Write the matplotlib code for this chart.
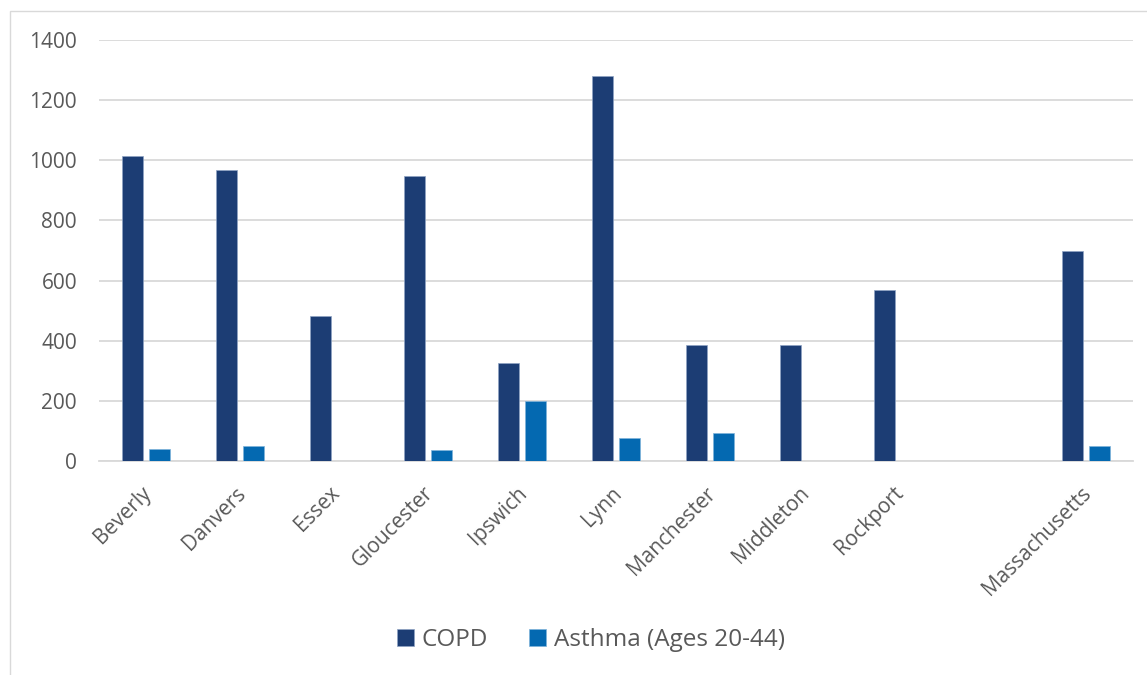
import numpy as np
import matplotlib
matplotlib.use("Agg")
import matplotlib.pyplot as plt
from matplotlib.patches import Rectangle

plt.rcParams['font.family'] = ['Open Sans', 'DejaVu Sans']

# Respiratory disease rates by community
categories = ["Beverly", "Danvers", "Essex", "Gloucester", "Ipswich", "Lynn",
              "Manchester", "Middleton", "Rockport", "", "Massachusetts"]
copd = [1014, 967, 481, 948, 327, 1279, 385, 385, 568, np.nan, 699]
asthma = [41, 50, np.nan, 37, 198, 76, 92, np.nan, np.nan, np.nan, 49]
series_names = ["COPD", "Asthma (Ages 20-44)"]
yticks = [0, 200, 400, 600, 800, 1000, 1200, 1400]

copd_color = "#1C3D74"
asthma_color = "#0469B1"
text_color = "#595959"
grid_color = "#D9D9D9"

W, H = 1147, 675
fig = plt.figure(figsize=(W / 100, H / 100), dpi=100)
fig.patch.set_facecolor("white")

# outer chart border
fig.patches.append(Rectangle((10 / W, -0.01), 1.02, 1 - 11 / H + 0.01,
                             transform=fig.transFigure, fill=False,
                             edgecolor=grid_color, linewidth=1.0, zorder=0))

left, right = 99.3 / W, 1133.3 / W
bottom, top = 1 - 461 / H, 1 - 40 / H
ax = fig.add_axes([left, bottom, right - left, top - bottom])

x = np.arange(len(categories))
bw = 0.225
gap = 0.062
ax.bar(x - (bw + gap) / 2, copd, width=bw, color=copd_color,
       edgecolor="#8FA3C4", linewidth=0.5, zorder=3, label=series_names[0])
ax.bar(x + (bw + gap) / 2, asthma, width=bw, color=asthma_color,
       edgecolor="#7FB3DA", linewidth=0.5, zorder=3, label=series_names[1])

ax.set_xlim(-0.5, len(categories) - 0.5)
ax.set_ylim(0, 1400)
ax.set_yticks(yticks)
ax.set_yticklabels([str(v) for v in yticks])
ax.yaxis.grid(True, color=grid_color, linewidth=1.3, zorder=0)
ax.set_axisbelow(True)
for s in ["top", "right", "left"]:
    ax.spines[s].set_visible(False)
ax.spines["bottom"].set_color(grid_color)
ax.spines["bottom"].set_linewidth(1.3)

ax.tick_params(axis="both", length=0, labelsize=15, colors=text_color)
ax.tick_params(axis="y", pad=16)
ax.set_xticks(x)
ax.set_xticklabels(categories, rotation=45, ha="right", va="center",
                   rotation_mode="anchor")
ax.tick_params(axis="x", pad=21)
offset = matplotlib.transforms.ScaledTranslation(2 / 100, 0, fig.dpi_scale_trans)
for lbl in ax.get_xticklabels():
    lbl.set_transform(lbl.get_transform() + offset)

leg = fig.legend(loc="center", bbox_to_anchor=(591 / W, 1 - 640 / H), ncol=2,
                 frameon=False, fontsize=17.5, labelcolor=text_color,
                 handlelength=0.7, handleheight=0.7, handletextpad=0.3,
                 columnspacing=1.7)

fig.savefig("out.png", dpi=100)
